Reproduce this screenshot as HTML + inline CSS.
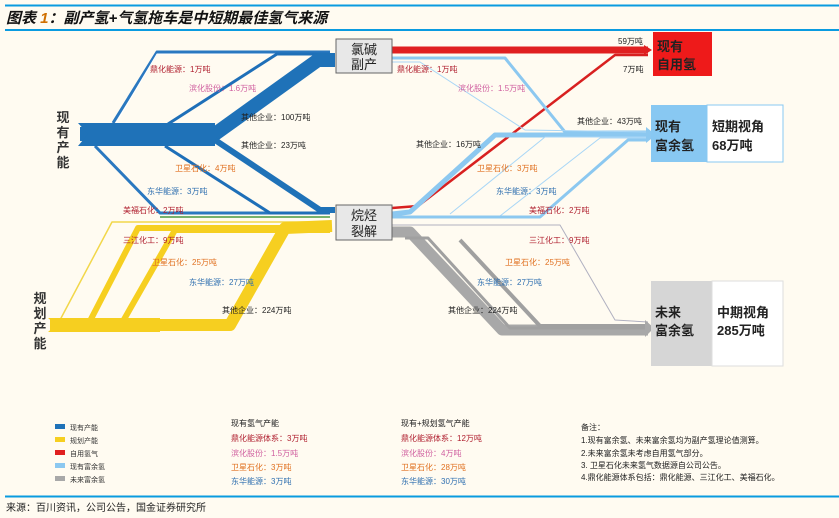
<!DOCTYPE html>
<html><head><meta charset="utf-8"><style>
body{margin:0;background:#fffbf1;width:839px;height:518px;overflow:hidden;font-family:"Liberation Sans","Noto Sans CJK SC",sans-serif;}
svg{position:absolute;left:0;top:0}
</style></head><body>
<svg width="839" height="518" viewBox="0 0 839 518" xmlns="http://www.w3.org/2000/svg" font-family="Liberation Sans, Noto Sans CJK SC, sans-serif">
<rect width="839" height="518" fill="#fffbf1"/>
<line x1="5" y1="5.5" x2="839" y2="5.5" stroke="#0a9be0" stroke-width="2"/>
<text x="6" y="23" font-size="15" font-weight="bold" font-style="italic" fill="#111">图表 <tspan fill="#d07000">1</tspan>：副产氢+气氢拖车是中短期最佳氢气来源</text>
<line x1="5" y1="30" x2="839" y2="30" stroke="#0a9be0" stroke-width="2"/>
<g fill="none" stroke-linejoin="round">
<!-- blue thin branches -->
<polyline points="113,123 157,52 330,52" stroke="#2a78c0" stroke-width="3"/>
<polyline points="116,123 157,54 330,54" stroke="#fff" stroke-width="1"/>
<polyline points="168,124 277,54 330,54" stroke="#1e6fb8" stroke-width="3"/>
<polyline points="95,146 160,213 330,213" stroke="#2a78c0" stroke-width="3"/>
<polyline points="165,146 270,213 330,213" stroke="#1e6fb8" stroke-width="3"/>
<polyline points="160,217 330,217" stroke="#4a9a40" stroke-width="1.5"/>
<!-- main blue -->
<polyline points="80,134 215,134 318,60 335,60" stroke="#1f72b8" stroke-width="14"/>
<polyline points="215,140 320,210 335,210" stroke="#1f72b8" stroke-width="6"/>
<polygon points="78,123 215,123 215,146 78,146 88,134" fill="#1f72b8" stroke="none"/>
<!-- yellow -->
<polyline points="60,320 112,222 330,222" stroke="#f2d74a" stroke-width="1.5"/>
<polyline points="90,321 138,228 330,228" stroke="#f6cf20" stroke-width="6"/>
<polyline points="122,323 175,230 330,230" stroke="#f6cf20" stroke-width="6"/>
<polyline points="50,325 230,325 285,228 332,226" stroke="#f6cf20" stroke-width="12"/>
<polygon points="48,318 160,318 160,332 48,332 56,325" fill="#f6cf20" stroke="none"/>
<!-- right red -->
<polyline points="392,50 648,50" stroke="#e02020" stroke-width="7"/>
<polygon points="644,45 652,50 644,55" fill="#e02020" stroke="none"/>
<polyline points="392,208 418,206 615,55 648,55" stroke="#d82020" stroke-width="2.5"/>
<!-- right light blue from 氯碱 -->
<polyline points="392,58 505,58 565,132 648,132" stroke="#8cc8f0" stroke-width="3"/>
<polyline points="392,62 420,62 525,130 648,132" stroke="#a8d6f6" stroke-width="1"/>
<!-- light blue from 烷烃 -->
<polyline points="392,214 410,212 495,135 648,135" stroke="#8cc8f0" stroke-width="5"/>
<polyline points="450,214 545,137 648,137" stroke="#a8d6f6" stroke-width="1"/>
<polyline points="500,216 600,138 648,138" stroke="#a8d6f6" stroke-width="1"/>
<polyline points="392,217 540,217 628,140 648,140" stroke="#8cc8f0" stroke-width="3"/>
<polygon points="646,127 656,135 646,143" fill="#8cc8f0" stroke="none"/>
<!-- grey -->
<polyline points="392,232 410,232 502,330 648,330" stroke="#a8a8a8" stroke-width="11"/>
<polyline points="405,238 428,238 510,328 648,328" stroke="#a0a0a0" stroke-width="3"/>
<polyline points="460,240 540,326 648,326" stroke="#a0a0a0" stroke-width="4"/>
<polyline points="392,225 560,225 615,320 648,322" stroke="#b0b0c0" stroke-width="1"/>
<polygon points="645,320 654,328 645,337" fill="#a8a8a8" stroke="none"/>
</g>
<!-- boxes -->
<rect x="336" y="39" width="56" height="34" fill="#e8e8e8" stroke="#666"/>
<text x="364" y="54" font-size="13" text-anchor="middle" fill="#222">氯碱</text>
<text x="364" y="69" font-size="13" text-anchor="middle" fill="#222">副产</text>
<rect x="336" y="205" width="56" height="35" fill="#e8e8e8" stroke="#666"/>
<text x="364" y="220" font-size="13" text-anchor="middle" fill="#222">烷烃</text>
<text x="364" y="236" font-size="13" text-anchor="middle" fill="#222">裂解</text>
<rect x="653" y="32" width="59" height="44" fill="#ee1a1a"/>
<text x="657" y="51" font-size="13" font-weight="bold" fill="#222">现有</text>
<text x="657" y="69" font-size="13" font-weight="bold" fill="#222">自用氢</text>
<rect x="651" y="105" width="56" height="57" fill="#88c8f2"/>
<rect x="707" y="105" width="76" height="57" fill="#fff" stroke="#88c8f2"/>
<text x="655" y="131" font-size="13" font-weight="bold" fill="#222">现有</text>
<text x="655" y="150" font-size="13" font-weight="bold" fill="#222">富余氢</text>
<text x="712" y="131" font-size="13" font-weight="bold" fill="#222">短期视角</text>
<text x="712" y="150" font-size="13" font-weight="bold" fill="#222">68万吨</text>
<rect x="651" y="281" width="61" height="85" fill="#d6d6d6"/>
<rect x="712" y="281" width="71" height="85" fill="#fff" stroke="#ddd"/>
<text x="655" y="317" font-size="13" font-weight="bold" fill="#222">未来</text>
<text x="655" y="335" font-size="13" font-weight="bold" fill="#222">富余氢</text>
<text x="717" y="317" font-size="13" font-weight="bold" fill="#222">中期视角</text>
<text x="717" y="335" font-size="13" font-weight="bold" fill="#222">285万吨</text>
<!-- side labels -->
<g font-size="13" font-weight="bold" fill="#333" text-anchor="middle">
<text x="63" y="122">现</text><text x="63" y="137">有</text><text x="63" y="152">产</text><text x="63" y="167">能</text>
<text x="40" y="303">规</text><text x="40" y="318">划</text><text x="40" y="333">产</text><text x="40" y="348">能</text>
</g>
<!-- flow labels -->
<g font-size="8">
<text x="150" y="72" fill="#b02030">鼎化能源：1万吨</text>
<text x="189" y="91" fill="#d060a0">滨化股份：1.6万吨</text>
<text x="241" y="120" fill="#222">其他企业：100万吨</text>
<text x="241" y="148" fill="#222">其他企业：23万吨</text>
<text x="175" y="171" fill="#e07020">卫星石化：4万吨</text>
<text x="147" y="194" fill="#3070b0">东华能源：3万吨</text>
<text x="123" y="213" fill="#b02030">美福石化：2万吨</text>
<text x="123" y="243" fill="#b02030">三江化工：9万吨</text>
<text x="152" y="265" fill="#e07020">卫星石化：25万吨</text>
<text x="189" y="285" fill="#3070b0">东华能源：27万吨</text>
<text x="222" y="313" fill="#222">其他企业：224万吨</text>
<text x="397" y="72" fill="#b02030">鼎化能源：1万吨</text>
<text x="458" y="91" fill="#d060a0">滨化股份：1.5万吨</text>
<text x="416" y="147" fill="#222">其他企业：16万吨</text>
<text x="577" y="124" fill="#222">其他企业：43万吨</text>
<text x="618" y="44" fill="#222">59万吨</text>
<text x="623" y="72" fill="#222">7万吨</text>
<text x="477" y="171" fill="#e07020">卫星石化：3万吨</text>
<text x="496" y="194" fill="#3070b0">东华能源：3万吨</text>
<text x="529" y="213" fill="#b02030">美福石化：2万吨</text>
<text x="529" y="243" fill="#b02030">三江化工：9万吨</text>
<text x="505" y="265" fill="#e07020">卫星石化：25万吨</text>
<text x="477" y="285" fill="#3070b0">东华能源：27万吨</text>
<text x="448" y="313" fill="#222">其他企业：224万吨</text>
</g>
<!-- legend -->
<g font-size="7" fill="#333">
<rect x="55" y="424" width="10" height="5" fill="#1f72b8"/><text x="70" y="430">现有产能</text>
<rect x="55" y="437" width="10" height="5" fill="#f6cf20"/><text x="70" y="443">规划产能</text>
<rect x="55" y="450" width="10" height="5" fill="#e02020"/><text x="70" y="456">自用氢气</text>
<rect x="55" y="463" width="10" height="5" fill="#8cc8f0"/><text x="70" y="469">现有富余氢</text>
<rect x="55" y="476" width="10" height="5" fill="#a8a8a8"/><text x="70" y="482">未来富余氢</text>
</g>
<g font-size="8">
<text x="231" y="426" fill="#222">现有氢气产能</text>
<text x="231" y="441" fill="#b02030">鼎化能源体系：3万吨</text>
<text x="231" y="456" fill="#d060a0">滨化股份：1.5万吨</text>
<text x="231" y="470" fill="#e07020">卫星石化：3万吨</text>
<text x="231" y="484" fill="#3070b0">东华能源：3万吨</text>
<text x="401" y="426" fill="#222">现有+规划氢气产能</text>
<text x="401" y="441" fill="#b02030">鼎化能源体系：12万吨</text>
<text x="401" y="456" fill="#d060a0">滨化股份：4万吨</text>
<text x="401" y="470" fill="#e07020">卫星石化：28万吨</text>
<text x="401" y="484" fill="#3070b0">东华能源：30万吨</text>
<g fill="#222">
<text x="581" y="430">备注：</text>
<text x="581" y="443">1.现有富余氢、未来富余氢均为副产氢理论值测算。</text>
<text x="581" y="456">2.未来富余氢未考虑自用氢气部分。</text>
<text x="581" y="468">3. 卫星石化未来氢气数据源自公司公告。</text>
<text x="581" y="480">4.鼎化能源体系包括：鼎化能源、三江化工、美福石化。</text>
</g>
</g>
<line x1="5" y1="496.5" x2="839" y2="496.5" stroke="#0a9be0" stroke-width="2"/>
<text x="6" y="511" font-size="10" fill="#222">来源：百川资讯，公司公告，国金证券研究所</text>
</svg>
</body></html>
